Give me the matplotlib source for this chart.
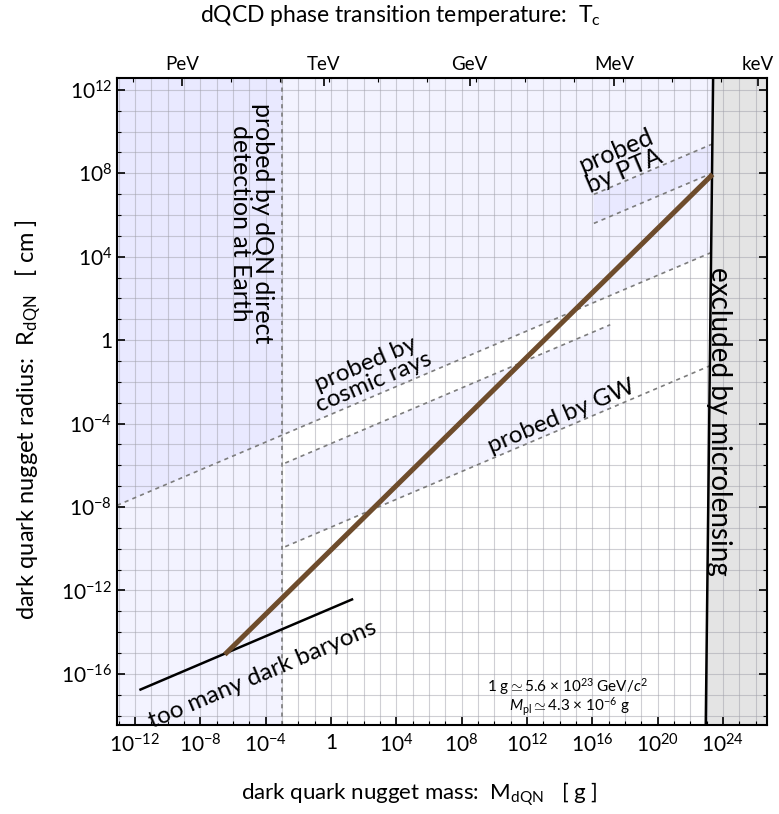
import numpy as np
import matplotlib
matplotlib.use('Agg')
import matplotlib.pyplot as plt
from matplotlib.ticker import FixedLocator, NullFormatter

plt.rcParams['font.family'] = ['Lato', 'DejaVu Sans']
plt.rcParams['mathtext.fontset'] = 'custom'
plt.rcParams['mathtext.rm'] = 'Lato'
plt.rcParams['mathtext.it'] = 'Lato:italic'
plt.rcParams['mathtext.bf'] = 'Lato:bold'

# everything below is log10 of mass [g] or radius [cm]
x_range = [-13.1, 26.7]
y_range = [-18.45, 12.57]
x_tick_exp = list(range(-12, 25, 4))
y_tick_exp = list(range(-16, 13, 4))

# top axis: dQCD phase transition temperature
top_labels = ['PeV', 'TeV', 'GeV', 'MeV', 'keV']
top_exp = [-9.1, -0.45, 8.5, 17.35, 26.15]

# boundaries of the probed / excluded regions
direct_x = -3.0
cosmic_x = [-13.1, 23.28]
cosmic_y = [-7.92, 4.20]
gw_up_x = [-2.8, 17.1]
gw_up_y = [-5.89, 0.74]
gw_lo_x = [-2.8, 23.2]
gw_lo_y = [-9.9, -1.23]
gw_edge_x = 17.1
gw_edge_y = -3.27
pta_up_x = [16.1, 23.4]
pta_up_y = [6.99, 9.42]
pta_lo_x = [16.1, 23.4]
pta_lo_y = [5.6, 8.03]
micro_x = [23.4, 22.95]
micro_y = [12.57, -18.45]

# dQN mass-radius relation and dark baryon bound
dqn_x = [-6.5, 23.37]
dqn_y = [-15.07, 7.95]
baryon_x = [-11.66, 1.29]
baryon_y = [-16.75, -12.43]

lav = '#c8c8ff'
lav_alpha = 0.21
dash_col = '#7c7c7c'


def p(v):
    return 10.0 ** np.asarray(v, dtype=float)


fig = plt.figure(figsize=(7.79, 8.14), dpi=100)
ax = fig.add_axes([117 / 779, 1 - 725 / 814, 650 / 779, 647 / 814])
ax.set_xscale('log')
ax.set_yscale('log')
ax.set_xlim(p(x_range))
ax.set_ylim(p(y_range))

# probed by direct detection (left of the dashed line)
ax.fill([p(x_range[0]), p(direct_x), p(direct_x), p(x_range[0])],
        [p(y_range[0]), p(y_range[0]), p(y_range[1]), p(y_range[1])],
        color=lav, alpha=lav_alpha, lw=0, zorder=1)

# probed by cosmic rays (above the upper dashed line)
ax.fill(p([cosmic_x[0], cosmic_x[1], micro_x[0], cosmic_x[0]]),
        p([cosmic_y[0], cosmic_y[1], y_range[1], y_range[1]]),
        color=lav, alpha=lav_alpha, lw=0, zorder=1)

# probed by GW
ax.fill(p([gw_up_x[0], gw_up_x[1], gw_edge_x, gw_lo_x[0]]),
        p([gw_up_y[0], gw_up_y[1], gw_edge_y, gw_lo_y[0]]),
        color=lav, alpha=lav_alpha, lw=0, zorder=1)

# probed by PTA
ax.fill(p([pta_up_x[0], pta_up_x[1], pta_lo_x[1], pta_lo_x[0]]),
        p([pta_up_y[0], pta_up_y[1], pta_lo_y[1], pta_lo_y[0]]),
        color=lav, alpha=lav_alpha, lw=0, zorder=1)

# excluded by microlensing
ax.fill(p([micro_x[0], x_range[1], x_range[1], micro_x[1]]),
        p([micro_y[0], y_range[1], y_range[0], micro_y[1]]),
        color='#e4e4e4', lw=0, zorder=1)

# grid every decade
ax.xaxis.set_minor_locator(FixedLocator(p(np.arange(-13, 27))))
ax.yaxis.set_minor_locator(FixedLocator(p(np.arange(-18, 13))))
ax.xaxis.set_major_locator(FixedLocator(p(x_tick_exp)))
ax.yaxis.set_major_locator(FixedLocator(p(y_tick_exp)))
ax.xaxis.set_minor_formatter(NullFormatter())
ax.yaxis.set_minor_formatter(NullFormatter())
ax.grid(True, which='both', color='#a0a0aa', lw=0.8, alpha=0.5, zorder=2)
ax.set_axisbelow(False)


def lab(e):
    return '1' if e == 0 else r'$10^{%d}$' % e


ax.set_xticklabels([lab(e) for e in x_tick_exp], fontsize=15)
ax.set_yticklabels([lab(e) for e in y_tick_exp], fontsize=15)
ax.tick_params(which='both', direction='in', top=False, right=True, color='black')
ax.tick_params(which='major', length=6, width=1.2)
ax.tick_params(which='minor', length=3, width=0.8)
ax.tick_params(axis='x', pad=6)

# dashed boundaries
dkw = dict(color=dash_col, lw=1.2, ls=(0, (2.5, 2.5)), zorder=3)
ax.plot(p([direct_x, direct_x]), p(y_range), **dkw)
ax.plot(p(cosmic_x), p(cosmic_y), **dkw)
ax.plot(p(gw_up_x), p(gw_up_y), **dkw)
ax.plot(p(gw_lo_x), p(gw_lo_y), **dkw)
ax.plot(p(pta_up_x), p(pta_up_y), **dkw)
ax.plot(p(pta_lo_x), p(pta_lo_y), **dkw)

ax.plot(p(micro_x), p(micro_y), color='black', lw=1.8, zorder=4)
ax.plot(p(baryon_x), p(baryon_y), color='black', lw=1.8, zorder=4)
ax.plot(p(dqn_x), p(dqn_y), color='#6e4c2c', lw=3.6, zorder=5, solid_capstyle='butt')

for s in ax.spines.values():
    s.set_linewidth(1.5)
    s.set_zorder(6)

# region labels
tk = dict(ha='center', va='center', rotation_mode='anchor',
          linespacing=0.95, zorder=7)
ax.text(p(-4.85), p(5.6), 'probed by dQN direct\ndetection at Earth', rotation=-90,
        fontsize=18, **tk)
ax.text(p(2.39), p(-1.58), 'probed by\ncosmic rays', rotation=23, fontsize=17.5, **tk)
ax.text(p(14.1), p(-3.68), 'probed by GW', rotation=23, fontsize=17.5, **tk)
ax.text(p(17.7), p(8.6), 'probed\nby PTA', rotation=23, fontsize=18, **tk)
ax.text(p(-4.16), p(-16.03), 'too many dark baryons', rotation=23, fontsize=17.5, **tk)
ax.text(p(23.75), p(-3.88), 'excluded by microlensing', rotation=-90, fontsize=20, **tk)

ax.text(p(14.5), p(-16.6), r'1 g$\simeq$5.6 $\times$ 10$^{23}$ GeV/$c^2$',
        fontsize=11, ha='center', va='center', zorder=7)
ax.text(p(14.6), p(-17.6), r'$M_{\rm pl}\simeq$4.3 $\times$ 10$^{-6}$ g',
        fontsize=11, ha='center', va='center', zorder=7)

# top axis with temperatures
top = ax.twiny()
top.set_xscale('log')
top.set_xlim(p(x_range))
top.xaxis.set_major_locator(FixedLocator(p(top_exp)))
top.xaxis.set_minor_locator(FixedLocator(p(np.arange(top_exp[0] - 3, x_range[1], 3))))
top.xaxis.set_minor_formatter(NullFormatter())
top.set_xticklabels(top_labels, fontsize=13.5)
top.tick_params(which='both', direction='in')
top.tick_params(which='major', length=6, width=1.2)
top.tick_params(which='minor', length=3, width=0.8)
for s in top.spines.values():
    s.set_visible(False)

fig.text(401 / 779, 1 - 15 / 814, r'dQCD phase transition temperature:  T$_{\rm c}$',
         fontsize=16.5, ha='center', va='center')
fig.text(419 / 779, 1 - 795 / 814, r'dark quark nugget mass:  M$_{\rm dQN}$   [ g ]',
         fontsize=16, ha='center', va='center')
fig.text(28 / 779, 1 - 420 / 814, r'dark quark nugget radius:  R$_{\rm dQN}$   [ cm ]',
         fontsize=17, ha='center', va='center', rotation=90)

fig.savefig('out.png', dpi=100)
